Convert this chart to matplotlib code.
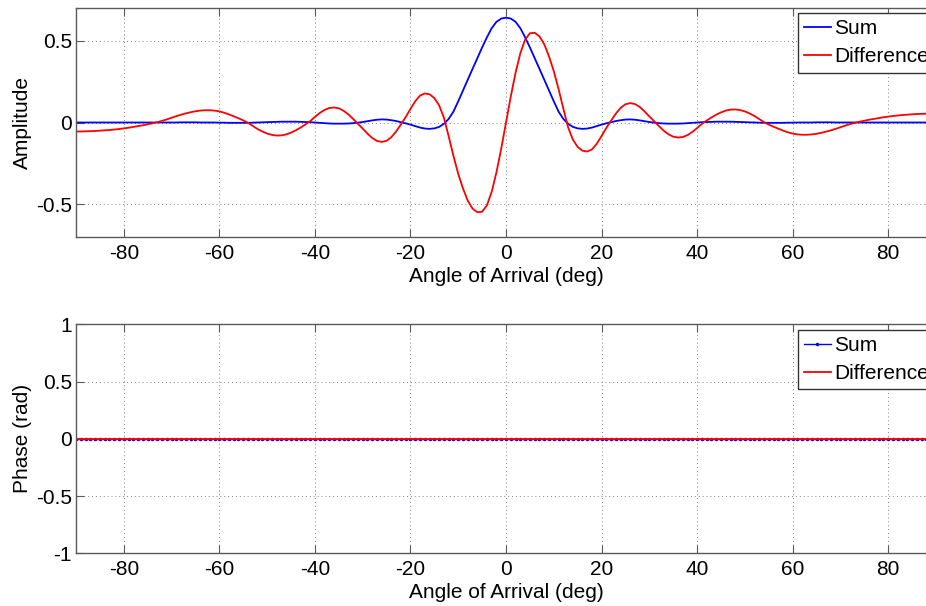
import matplotlib.pyplot as plt
from matplotlib.ticker import FuncFormatter

plt.rcParams['font.family'] = ['Liberation Sans', 'DejaVu Sans']
plt.rcParams['axes.unicode_minus'] = False

# Angle grid (deg), one sample per degree
angles = list(range(-90, 91))

# Sum pattern amplitude (-90 .. 90)
sum_amp = [
    0.000, 0.000, 0.000, 0.000, 0.000, 0.000, 0.000, 0.000, 0.000, 0.000,
    0.000, 0.000, 0.000, 0.000, 0.000, 0.000, 0.000, 0.000, 0.000, 0.000,
    0.000, 0.000, 0.001, 0.001, 0.001, 0.001, 0.000, 0.000, 0.000, 0.000,
    -0.001, -0.001, -0.002, -0.002, -0.002, -0.002, -0.002, -0.001, 0.000, 0.001,
    0.002, 0.003, 0.004, 0.005, 0.005, 0.005, 0.005, 0.004, 0.003, 0.002,
    0.000, -0.002, -0.004, -0.006, -0.007, -0.007, -0.007, -0.006, -0.004, -0.001,
    0.003, 0.008, 0.013, 0.017, 0.019, 0.018, 0.014, 0.009, 0.002, -0.005,
    -0.013, -0.022, -0.031, -0.037, -0.039, -0.036, -0.027, -0.008, 0.022, 0.067,
    0.130, 0.197, 0.263, 0.329, 0.395, 0.460, 0.522, 0.578, 0.617, 0.637,
    0.643,
    0.637, 0.617, 0.578, 0.522, 0.460, 0.395, 0.329, 0.263, 0.197,
    0.130, 0.067, 0.022, -0.008, -0.027, -0.036, -0.039, -0.037, -0.031, -0.022,
    -0.013, -0.005, 0.002, 0.009, 0.014, 0.018, 0.019, 0.017, 0.013, 0.008,
    0.003, -0.001, -0.004, -0.006, -0.007, -0.007, -0.007, -0.006, -0.004, -0.002,
    0.000, 0.002, 0.003, 0.004, 0.005, 0.005, 0.005, 0.005, 0.004, 0.003,
    0.002, 0.001, 0.000, -0.001, -0.002, -0.002, -0.002, -0.002, -0.002, -0.001,
    -0.001, 0.000, 0.000, 0.000, 0.000, 0.001, 0.001, 0.001, 0.001, 0.000,
    0.000, 0.000, 0.000, 0.000, 0.000, 0.000, 0.000, 0.000, 0.000, 0.000,
    0.000, 0.000, 0.000, 0.000, 0.000, 0.000, 0.000, 0.000, 0.000, 0.000, 0.000,
]

# Difference pattern amplitude (-90 .. 90)
diff_amp = [
    -0.055, -0.055, -0.054, -0.053, -0.052, -0.050, -0.048, -0.046, -0.043, -0.040,
    -0.036, -0.032, -0.027, -0.022, -0.017, -0.011, -0.005, 0.002, 0.010, 0.019,
    0.029, 0.039, 0.048, 0.056, 0.063, 0.069, 0.073, 0.075, 0.075, 0.073,
    0.068, 0.060, 0.050, 0.038, 0.026, 0.013, -0.002, -0.021, -0.040, -0.055,
    -0.068, -0.076, -0.080, -0.079, -0.073, -0.062, -0.048, -0.031, -0.012, 0.008,
    0.034, 0.058, 0.077, 0.089, 0.092, 0.087, 0.072, 0.050, 0.022, -0.008,
    -0.037, -0.068, -0.095, -0.113, -0.119, -0.112, -0.090, -0.055, -0.012, 0.033,
    0.083, 0.130, 0.165, 0.178, 0.173, 0.150, 0.105, 0.030, -0.085, -0.205,
    -0.315, -0.405, -0.480, -0.528, -0.550, -0.547, -0.508, -0.425, -0.305, -0.160,
    0.000,
    0.160, 0.305, 0.425, 0.508, 0.547, 0.550, 0.528, 0.480, 0.405,
    0.315, 0.205, 0.085, -0.030, -0.105, -0.150, -0.173, -0.178, -0.165, -0.130,
    -0.083, -0.033, 0.012, 0.055, 0.090, 0.112, 0.119, 0.113, 0.095, 0.068,
    0.037, 0.008, -0.022, -0.050, -0.072, -0.087, -0.092, -0.089, -0.077, -0.058,
    -0.034, -0.008, 0.012, 0.031, 0.048, 0.062, 0.073, 0.079, 0.080, 0.076,
    0.068, 0.055, 0.040, 0.021, 0.002, -0.013, -0.026, -0.038, -0.050, -0.060,
    -0.068, -0.073, -0.075, -0.075, -0.073, -0.069, -0.063, -0.056, -0.048, -0.039,
    -0.029, -0.019, -0.010, -0.002, 0.005, 0.011, 0.017, 0.022, 0.027, 0.032,
    0.036, 0.040, 0.043, 0.046, 0.048, 0.050, 0.052, 0.053, 0.054, 0.055, 0.055,
]

# Phase of both channels is flat zero
sum_phase = [0.0] * len(angles)
diff_phase = [0.0] * len(angles)

x_ticks = [-80, -60, -40, -20, 0, 20, 40, 60, 80]
amp_ticks = [-0.5, 0, 0.5]
phase_ticks = [-1, -0.5, 0, 0.5, 1]

FS = 15
spine_col = '0.35'

fig = plt.figure(figsize=(9.26, 6.06), dpi=100)


def style_axes(ax, yticks, ylabel):
    ax.set_xlim(-90, 90)
    ax.set_xticks(x_ticks)
    ax.set_yticks(yticks)
    ax.yaxis.set_major_formatter(FuncFormatter(lambda v, p: '%g' % v))
    ax.grid(True, linestyle=(0, (1, 3)), color='0.5', linewidth=0.7)
    ax.tick_params(direction='in', top=True, right=True, length=6, width=0.8,
                   color=spine_col, labelsize=FS)
    ax.tick_params(axis='x', pad=5)
    ax.tick_params(axis='y', pad=3)
    for s in ax.spines.values():
        s.set_color(spine_col)
        s.set_linewidth(1.0)
    ax.set_xlabel('Angle of Arrival (deg)', fontsize=FS, labelpad=3)
    ax.set_ylabel(ylabel, fontsize=FS, labelpad=3)


def add_legend(ax, top):
    ax.legend(loc='upper left', bbox_to_anchor=(0.839, top), fontsize=FS,
              frameon=True, fancybox=False, edgecolor='0.2', framealpha=1,
              handlelength=1.3, handletextpad=0.15, borderpad=0.3,
              labelspacing=0.43, borderaxespad=0)


# Amplitude plot
ax1 = fig.add_axes([0.0821, 0.6094, 0.9287, 0.3769])
ax1.plot(angles, sum_amp, color='b', linewidth=1.3, label='Sum')
ax1.plot(angles, diff_amp, color='r', linewidth=1.3, label='Difference')
ax1.set_ylim(-0.7, 0.7)
style_axes(ax1, amp_ticks, 'Amplitude')
add_legend(ax1, 0.979)

# Phase plot
ax2 = fig.add_axes([0.0821, 0.0870, 0.9287, 0.3779])
ax2.plot(angles, sum_phase, color='b', linewidth=1.0, marker='.',
         markersize=3, label='Sum')
ax2.plot(angles, diff_phase, color='r', linewidth=1.3, label='Difference')
ax2.set_ylim(-1, 1)
style_axes(ax2, phase_ticks, 'Phase (rad)')
add_legend(ax2, 0.975)

plt.savefig('out.png', dpi=100)
